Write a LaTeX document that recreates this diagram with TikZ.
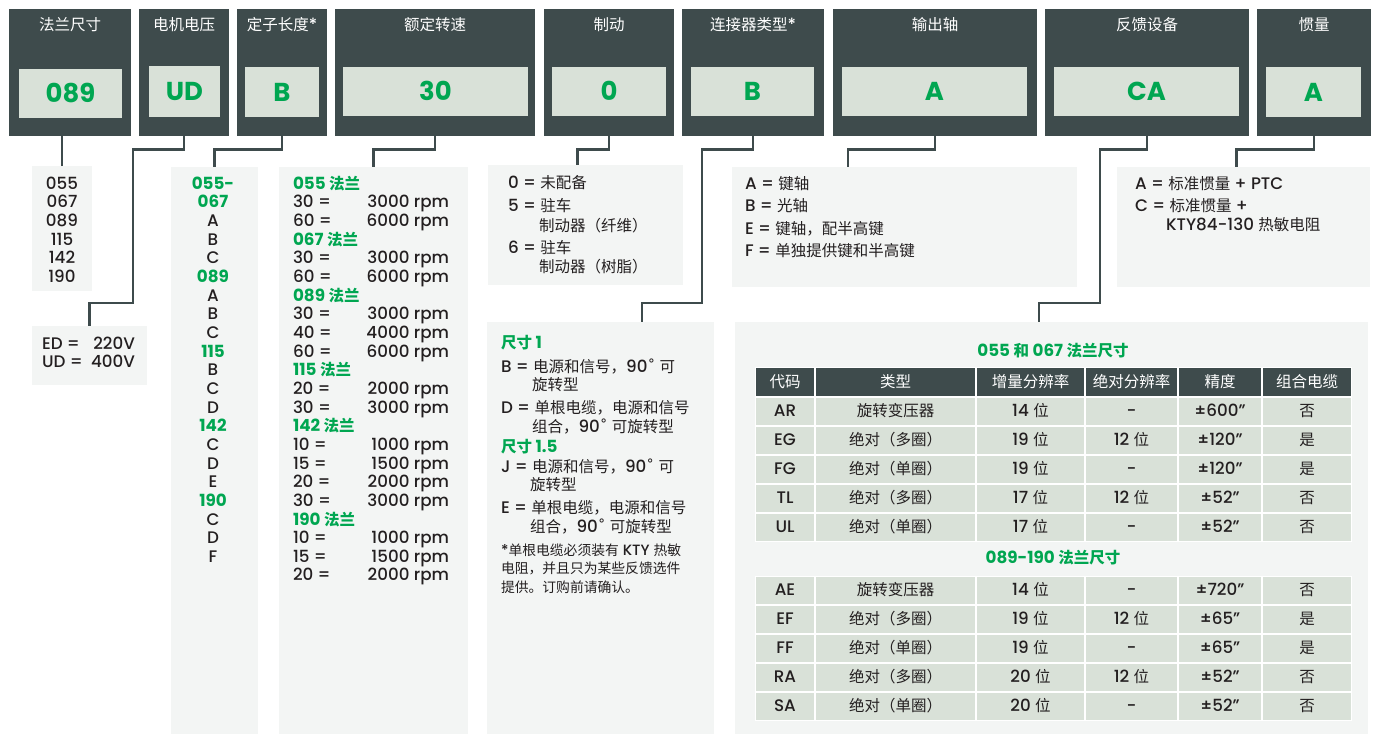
\documentclass[tikz,border=0pt]{standalone}
\usepackage{fontspec}
\setmainfont{Poppins}[Scale=1.08,UprightFont={* Medium},BoldFont={* Bold}]
\newfontfamily\cjkf{Noto Sans CJK SC}
\newfontfamily\djv{DejaVu Sans}
\newcommand\dg{{\djv ˚}}
\newcommand\tocjk{\cjkf}
\newcommand\tolat{\rmfamily}
\XeTeXinterchartokenstate=1
\chardef\cjkcls=201
\newcount\cjkc
\newcommand\setcjkrange[2]{\cjkc=#1\relax\loop\XeTeXcharclass\cjkc=\cjkcls\advance\cjkc by 1\relax\ifnum\cjkc<#2\repeat}
\setcjkrange{"3000}{"3040}
\setcjkrange{"4E00}{"A000}
\setcjkrange{"FF00}{"FFF0}
\XeTeXinterchartoks 0 \cjkcls = {\tocjk}
\XeTeXinterchartoks 4095 \cjkcls = {\tocjk}
\XeTeXinterchartoks \cjkcls 0 = {\tolat}
\XeTeXinterchartoks \cjkcls 4095 = {\tolat}

\definecolor{dk}{RGB}{62,75,76}
\definecolor{lt}{RGB}{217,225,216}
\definecolor{grn}{RGB}{0,166,81}
\definecolor{pan}{RGB}{243,245,244}
\definecolor{ink}{RGB}{35,31,32}
\newcommand\fsz[1]{\fontsize{#1}{#1}\selectfont}
\newcommand\txl[4][]{\node[anchor=base west,text=ink,font=\fsz{15.5},#1] at (#2,#3+5.8) {#4};}
\newcommand\txr[4][]{\node[anchor=base east,text=ink,font=\fsz{15.5},#1] at (#2,#3+5.8) {#4};}
\newcommand\txc[4][]{\node[anchor=base,text=ink,font=\fsz{15.5},#1] at (#2,#3+5.8) {#4};}
\newcommand\panelnode[5]{\node[fill=pan,minimum width={#4-#2},minimum height={#5-#3}] (#1) at ({(#2+#4)/2},{(#3+#5)/2}) {};}
% table row: top, bottom, fill, text colour, cells
\newcommand\trow[5]{%
  \fill[white] (755,#1) rectangle (1352,#2);
  \foreach \c [count=\i from 0] in {#5}{%
    \pgfmathsetmacro\xl{{755,815,976,1085,1178,1262,1352}[\i]}%
    \pgfmathsetmacro\xr{{755,815,976,1085,1178,1262,1352}[\i+1]}%
    \fill[#3] (\xl+1,#1+1) rectangle (\xr-1,#2-1);
    \node[anchor=base,text=#4,font=\fsz{15.5}] at ({(\xl+\xr)/2},{(#1+#2)/2+5.8}) {\c};
  }}

\begin{document}
\begin{tikzpicture}[x=1pt,y=-1pt,
  every node/.style={inner sep=0pt,outer sep=0pt},
  conn/.style={draw=dk,line width=2.8pt},
  gh/.style={text=grn,font=\bfseries\fsz{15.5}}]
\useasboundingbox (0,0) rectangle (1378,734);
\fill[white] (0,0) rectangle (1378,734);

% header boxes
\foreach \n/\xa/\xb/\ia/\ib/\ya/\yb/\ttl/\val in {
  1/9/131/19/122/69/118/法兰尺寸/089,
  2/139/229/149/220/66/117/电机电压/UD,
  3/237/327/245/319/67/117/定子长度*/B,
  4/335/535/343/528/67/116/额定转速/30,
  5/544/674/552/666/67/116/制动/0,
  6/682/824/691/814/67/116/连接器类型*/B,
  7/833/1037/842/1027/67/116/输出轴/A,
  8/1045/1249/1054/1239/67/116/反馈设备/CA,
  9/1257/1371/1266/1361/67/117/惯量/A}
{
  \node[fill=dk,minimum width={\xb-\xa},minimum height=127] (h\n) at ({(\xa+\xb)/2},72.5) {};
  \node[fill=lt,minimum width={\ib-\ia},minimum height={\yb-\ya}] (v\n) at ({(\ia+\ib)/2},{(\ya+\yb)/2}) {};
  \node[anchor=base,text=white,font=\fsz{15.5}] (t\n) at ({(\xa+\xb)/2},30.5) {\ttl};
  \node[anchor=base,text=grn,font=\bfseries\fsz{24}] (x\n) at ({(\ia+\ib)/2},{(\ya+\yb)/2+9.2}) {\val};
}

% option panels
\panelnode{optA}{32}{166}{92}{291}
\panelnode{optB}{32}{326}{147}{385}
\panelnode{optC}{171}{167}{258}{734}
\panelnode{optD}{279}{167}{468}{734}
\panelnode{optE}{488}{165}{683}{285}
\panelnode{optF}{487}{322}{714}{734}
\panelnode{optG}{732}{167}{1077}{287}
\panelnode{optI}{1117}{167}{1370}{287}
\panelnode{optT}{735}{322}{1368}{734}

\coordinate (fIn) at (642,322);
\coordinate (gIn) at (848,167);
\coordinate (tIn) at (1039,322);

% connectors
\draw[conn] (optA.north) -- (optA.north |- h1.south);
\draw[conn] (h2.south) -- ++(0,13.5) -| (133,303) -| (optB.north);
\draw[conn] (h3.south) -- ++(0,13.5) -| (optC.north);
\draw[conn] (h4.south) -- ++(0,13.5) -| (optD.north);
\draw[conn] (h5.south) -- ++(0,13.5) -| ([xshift=-8pt]optE.north);
\draw[conn] (h6.south) -- ++(0,13.5) -| (702,303) -| (fIn);
\draw[conn] (h7.south) -- ++(0,13.5) -| (gIn);
\draw[conn] (h8.south) -- ++(0,13.5) -| (1100,303) -| (tIn);
\draw[conn] (h9.south) -- ++(0,13.5) -| ([xshift=-7pt]optI.north);

% flange sizes
\foreach \s [count=\i from 0] in {055,067,089,115,142,190}
  \node[anchor=base,text=ink,font=\fsz{15.5}] (a\i) at (62,{183.5+18.6*\i+5.8}) {\s};

% voltage
\txl{42}{344}{ED =}
\txr{135}{344}{220V}
\txl{42}{362}{UD =}
\txr{135}{362}{400V}

% stator length
\foreach \k/\s in {0/055-,1/067,5/089,9/115,13/142,17/190}
  \node[anchor=base,gh] (cg\k) at (213,{183.5+18.65*\k+5.8}) {\s};
\foreach \k/\s in {2/A,3/B,4/C,6/A,7/B,8/C,10/B,11/C,12/D,14/C,15/D,16/E,18/C,19/D,20/F}
  \node[anchor=base,text=ink,font=\fsz{15.5}] (cb\k) at (213,{183.5+18.65*\k+5.8}) {\s};

% rated speed
\foreach \k/\s in {0/055,3/067,6/089,10/115,13/142,18/190}
  \node[anchor=base west,gh] (dg\k) at (293,{183.5+18.65*\k+5.8}) {\s\ 法兰};
\foreach \k/\a/\b in {1/30 =/3000 rpm,2/60 =/6000 rpm,4/30 =/3000 rpm,5/60 =/6000 rpm,
  7/30 =/3000 rpm,8/40 =/4000 rpm,9/60 =/6000 rpm,11/20 =/2000 rpm,12/30 =/3000 rpm,
  14/10 =/1000 rpm,15/15 =/1500 rpm,16/20 =/2000 rpm,17/30 =/3000 rpm,
  19/10 =/1000 rpm,20/15 =/1500 rpm,21/20 =/2000 rpm}{
  \node[anchor=base west,text=ink,font=\fsz{15.5}] (dl\k) at (293,{183.5+18.65*\k+5.8}) {\a};
  \node[anchor=base east,text=ink,font=\fsz{15.5}] (dv\k) at (449,{183.5+18.65*\k+5.8}) {\b};
}

% brake
\txl{508}{183}{0 = 未配备}
\txl{508}{206}{5 = 驻车}
\txl{539}{226}{制动器（纤维）}
\txl{508}{248}{6 = 驻车}
\txl{539}{267}{制动器（树脂）}

% connector type
\txl[gh]{501}{343}{尺寸 1}
\txl{501}{367}{B = 电源和信号，90\dg{} 可}
\txl{532}{385}{旋转型}
\txl{501}{408}{D = 单根电缆，电源和信号}
\txl{532}{427}{组合，90\dg{} 可旋转型}
\txl[gh]{501}{447}{尺寸 1.5}
\txl{501}{467}{J = 电源和信号，90\dg{} 可}
\txl{530}{485}{旋转型}
\txl{501}{508}{E = 单根电缆，电源和信号}
\txl{530}{527}{组合，90\dg{} 可旋转型}
\txl[font=\fsz{13.8}]{501}{550}{*单根电缆必须装有 KTY 热敏}
\txl[font=\fsz{13.8}]{501}{568}{电阻，并且只为某些反馈选件}
\txl[font=\fsz{13.8}]{501}{587}{提供。订购前请确认。}

% output shaft
\txl{745}{184}{A = 键轴}
\txl{745}{206}{B = 光轴}
\txl{745}{229}{E = 键轴，配半高键}
\txl{745}{251}{F = 单独提供键和半高键}

% inertia
\txl{1135}{184}{A = 标准惯量 + PTC}
\txl{1135}{206}{C = 标准惯量 +}
\txl{1166}{225}{KTY84-130 热敏电阻}

% feedback tables
\txc[gh]{1053}{351}{055 和 067 法兰尺寸}
\trow{367}{396.5}{dk}{white}{代码,类型,增量分辨率,绝对分辨率,精度,组合电缆}
\trow{396.5}{425.5}{lt}{ink}{AR,旋转变压器,14 位,-,±600”,否}
\trow{425.5}{454.5}{lt}{ink}{EG,绝对（多圈）,19 位,12 位,±120”,是}
\trow{454.5}{483.5}{lt}{ink}{FG,绝对（单圈）,19 位,-,±120”,是}
\trow{483.5}{512.5}{lt}{ink}{TL,绝对（多圈）,17 位,12 位,±52”,否}
\trow{512.5}{541.5}{lt}{ink}{UL,绝对（单圈）,17 位,-,±52”,否}
\txc[gh]{1053}{558}{089-190 法兰尺寸}
\trow{575.5}{604.5}{lt}{ink}{AE,旋转变压器,14 位,-,±720”,否}
\trow{604.5}{633.5}{lt}{ink}{EF,绝对（多圈）,19 位,12 位,±65”,是}
\trow{633.5}{662.5}{lt}{ink}{FF,绝对（单圈）,19 位,-,±65”,是}
\trow{662.5}{691.5}{lt}{ink}{RA,绝对（多圈）,20 位,12 位,±52”,否}
\trow{691.5}{720.5}{lt}{ink}{SA,绝对（单圈）,20 位,-,±52”,否}
\end{tikzpicture}
\end{document}
